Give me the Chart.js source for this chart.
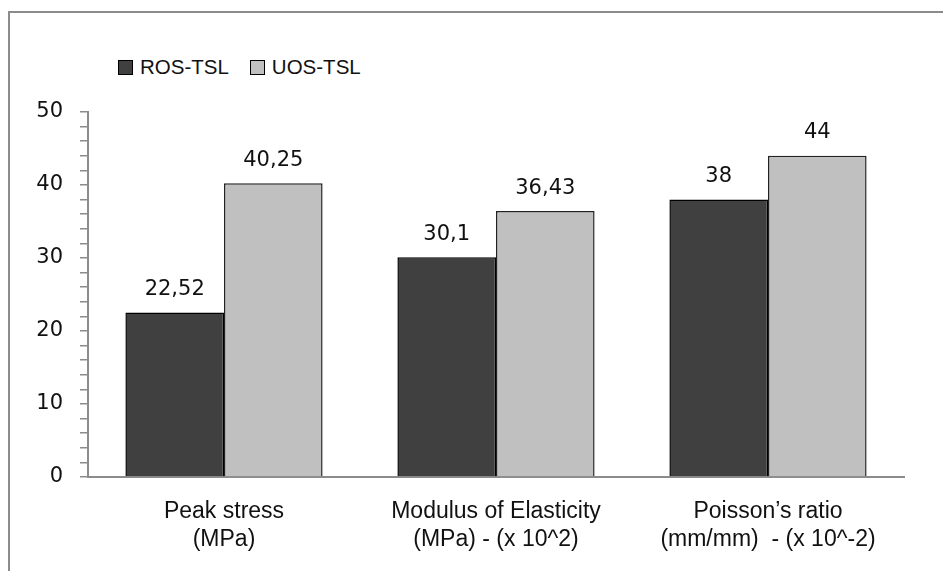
<!DOCTYPE html>
<html>
<head>
<meta charset="utf-8">
<script src="https://cdn.jsdelivr.net/npm/chart.js@4/dist/chart.umd.min.js"></script>
<style>
  html, body { margin: 0; padding: 0; background: #fff; }
  #wrap { position: relative; width: 943px; height: 571px; overflow: hidden; }
  #frame { position: absolute; left: 8px; top: 11px; width: 1000px; height: 700px; border-left: 2px solid #8c8c8c; border-top: 2px solid #8c8c8c; }
  #legend { position: absolute; left: 118px; top: 55px; font: 20.5px 'Liberation Sans', sans-serif; color: #111; line-height: 24px; white-space: nowrap; }
  #legend span.item { display: inline-block; margin-right: 21px; }
  #legend span.sw { display: inline-block; width: 13px; height: 13px; border: 1.5px solid #000; margin-right: 7px; vertical-align: -1px; }
  canvas { position: absolute; left: 0; top: 0; }
</style>
</head>
<body>
<div id="wrap">
  <div id="frame"></div>
  <div id="legend"></div>
  <canvas id="chart" width="943" height="571"></canvas>
</div>
<script>
/* global Chart */

const categorias = [
  ['Peak stress', '(MPa)'],
  ['Modulus of Elasticity', '(MPa) - (x 10^2)'],
  ['Poisson\u2019s ratio', '(mm/mm)  - (x 10^-2)']
]
const serieNombres = ['ROS-TSL', 'UOS-TSL']
const valoresROS = [22.52, 30.1, 38]
const valoresUOS = [40.25, 36.43, 44]
const colores = ['#404040', '#c0c0c0']
const yMin = 0
const yMax = 50

function formatComa (v) {
  return String(v).replace('.', ',')
}

const legendBox = document.getElementById('legend')
legendBox.innerHTML = serieNombres.map((nombre, i) =>
  `<span class="item"><span class="sw" style="background:${colores[i]}"></span>${nombre}</span>`
).join('')

const etiquetasPlugin = {
  id: 'etiquetas',
  afterDatasetsDraw (chart) {
    const ctx = chart.ctx
    ctx.save()
    ctx.font = '21px "DejaVu Sans", sans-serif'
    ctx.fillStyle = '#111'
    ctx.textAlign = 'center'
    ctx.textBaseline = 'middle'
    chart.data.datasets.forEach((ds, i) => {
      chart.getDatasetMeta(i).data.forEach((bar, j) => {
        ctx.fillText(formatComa(ds.data[j]), bar.x, bar.y - 23)
      })
    })
    ctx.restore()
  }
}

const ctx = document.getElementById('chart').getContext('2d')
new Chart(ctx, {
  type: 'bar',
  data: {
    labels: categorias,
    datasets: [
      {
        label: serieNombres[0],
        data: valoresROS,
        backgroundColor: colores[0],
        borderColor: '#000',
        borderWidth: 1.5
      },
      {
        label: serieNombres[1],
        data: valoresUOS,
        backgroundColor: colores[1],
        borderColor: '#222',
        borderWidth: 1.5
      }
    ]
  },
  options: {
    responsive: false,
    animation: false,
    layout: { padding: { top: 112, right: 39, bottom: 0, left: 0 } },
    plugins: {
      legend: { display: false },
      tooltip: { enabled: false }
    },
    datasets: {
      bar: { categoryPercentage: 0.725, barPercentage: 1 }
    },
    scales: {
      x: {
        grid: { display: false, drawTicks: false },
        border: { color: '#8c8c8c', width: 2 },
        afterFit: (scale) => { scale.height = 94 },
        ticks: {
          color: '#111',
          padding: 21,
          font: { family: "'Liberation Sans', sans-serif", size: 23, lineHeight: 1.22 }
        }
      },
      y: {
        min: yMin,
        max: yMax,
        afterFit: (scale) => { scale.width = 88 },
        grid: { drawOnChartArea: false, color: '#8c8c8c', tickLength: 8, lineWidth: 1.5 },
        border: { color: '#8c8c8c', width: 2 },
        ticks: {
          stepSize: 2,
          autoSkip: false,
          color: '#111',
          padding: 17,
          font: { family: "'DejaVu Sans', sans-serif", size: 21 },
          callback: (v) => (v % 10 === 0 ? v : '')
        }
      }
    }
  },
  plugins: [etiquetasPlugin]
})
</script>
</body>
</html>
